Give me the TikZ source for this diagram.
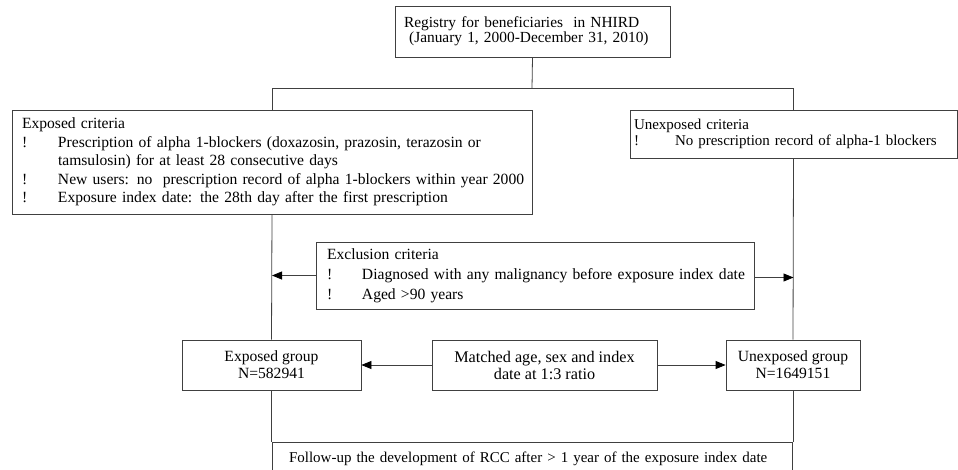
\documentclass[tikz,border=0pt]{standalone}
\usepackage{fontspec}
\setmainfont{Liberation Serif}
\usepackage{array}
\usetikzlibrary{arrows.meta}

\begin{document}
\begin{tikzpicture}[x=1pt,y=-1pt,line width=0.8pt,
	boxnode/.style={draw=black!75,fill=white,inner sep=0pt,font=\fontsize{15.6}{17}\selectfont},
	arr/.style={draw=black!75,-{Triangle[length=10pt,width=8pt,color=black]}},
	link/.style={draw=black!75}]
	\useasboundingbox (0,0) rectangle (958,469);
	\node[boxnode,align=left,minimum width=275pt,minimum height=51pt,text width=257pt,inner xsep=9pt,font=\fontsize{15.4}{15}\selectfont] (reg) at (532.5,31.5) {Registry for beneficiaries \ in NHIRD\\ \ (January 1, 2000-December 31, 2010)\\[3pt]};
	\node[boxnode,align=left,minimum width=520pt,minimum height=104pt,text width=500pt,inner xsep=10pt,font=\fontsize{15.6}{18.5}\selectfont] (expc) at (272,162) {\noindent\begin{tabular}{@{}p{36pt}@{}l@{}}
		\multicolumn{2}{@{}l@{}}{Exposed criteria}\\
		! & Prescription of alpha 1-blockers (doxazosin, prazosin, terazosin or\\
		  & tamsulosin) for at least 28 consecutive days\\
		! & New users: no \ prescription record of alpha 1-blockers within year 2000\\
		! & Exposure index date: the 28th day after the first prescription
	\end{tabular}};
	\node[boxnode,align=left,minimum width=327pt,minimum height=48pt,text width=319pt,inner xsep=4pt,font=\fontsize{15}{16}\selectfont] (unexc) at (793.5,134) {\noindent\begin{tabular}{@{}p{41pt}@{}l@{}}
		\multicolumn{2}{@{}l@{}}{Unexposed criteria}\\
		! & No prescription record of alpha-1 blockers
	\end{tabular}\\[4pt]};
	\node[boxnode,align=left,minimum width=438pt,minimum height=67pt,text width=416pt,inner xsep=11pt,font=\fontsize{15.6}{20}\selectfont] (excl) at (535,275.5) {\noindent\begin{tabular}{@{}p{35pt}@{}l@{}}
		\multicolumn{2}{@{}l@{}}{Exclusion criteria}\\
		! & Diagnosed with any malignancy before exposure index date\\
		! & Aged >90 years
	\end{tabular}};
	\node[boxnode,align=center,minimum width=179pt,minimum height=50pt] (expg) at (271.5,365) {Exposed group\\N=582941};
	\node[boxnode,align=center,minimum width=225pt,minimum height=50pt,font=\fontsize{16.2}{17}\selectfont] (match) at (544.5,365) {Matched age, sex and index\\date at 1:3 ratio};
	\node[boxnode,align=center,minimum width=134pt,minimum height=50pt] (unexg) at (793,365) {Unexposed group\\N=1649151};
	\node[boxnode,align=left,minimum width=520pt,minimum height=34pt,text width=486pt,inner xsep=17pt,font=\fontsize{15}{17}\selectfont] (fol) at (532,459) {Follow-up the development of RCC after > 1 year of the exposure index date\\[2pt]};
	\coordinate (split) at (532,88);
	\draw[link] (reg.south) -- (split);
	\draw[link] (split) -| (expc.north);
	\draw[link] (split) -| (unexc.north);
	\draw[link] (expc.south) -- (expg.north);
	\draw[link] (expg.south) -- (expg.south |- fol.north);
	\draw[link] (unexc.south) -- (unexg.north);
	\draw[link] (unexg.south) -- (unexg.south |- fol.north);
	\draw[arr] (excl.west) -- (excl.west -| expc.south);
	\draw[arr] ([yshift=-2pt]excl.east) -- ([yshift=-2pt]excl.east -| unexc.south);
	\draw[arr] (match.west) -- (expg.east);
	\draw[arr] (match.east) -- (unexg.west);
\end{tikzpicture}
\end{document}
